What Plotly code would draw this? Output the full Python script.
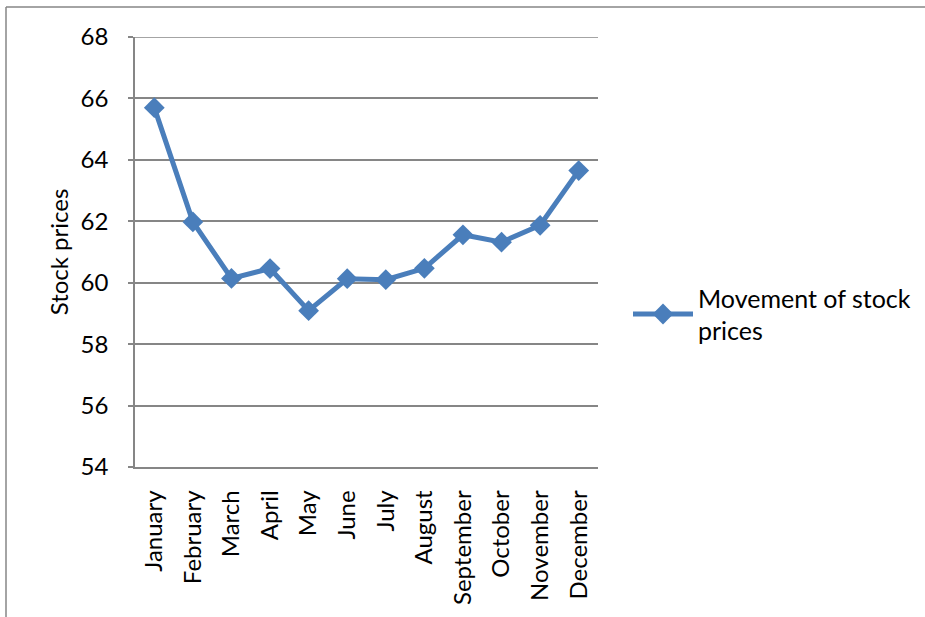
import plotly.graph_objects as go

months = ["January", "February", "March", "April", "May", "June", "July",
          "August", "September", "October", "November", "December"]
prices = [65.70, 61.98, 60.14, 60.46, 59.09, 60.13, 60.10, 60.47, 61.56, 61.32, 61.87, 63.65]
y_ticks = [54, 56, 58, 60, 62, 64, 66, 68]
series_name = "Movement of stock<br>prices"

BLUE = "#4A7EBB"
GRID = "#868686"
FONT = "Lato, Open Sans, sans-serif"

fig = go.Figure()
fig.add_trace(go.Scatter(
    x=months, y=prices, name=series_name, mode="lines+markers",
    line=dict(color=BLUE, width=5),
    marker=dict(symbol="diamond", size=16, color=BLUE),
))

W, H = 925, 617
L, R, T, B = 135, 327, 37, 150
pw, ph = W - L - R, H - T - B


def px_x(v):
    return (v - L) / pw


def px_y(v):
    return (H - B - v) / ph


fig.update_layout(
    width=W, height=H,
    margin=dict(l=L, r=R, t=T, b=B, autoexpand=False),
    paper_bgcolor="white", plot_bgcolor="white",
    font=dict(family=FONT, size=24, color="#000000"),
    showlegend=True,
    legend=dict(x=px_x(628), y=px_y(314), xanchor="left", yanchor="middle",
                font=dict(size=25), itemwidth=60, bgcolor="rgba(0,0,0,0)"),
    xaxis=dict(
        type="category", range=[-0.5, 11.5], tickangle=-90,
        showgrid=False, showline=True, linecolor=GRID, linewidth=1.5,
        ticks="", ticklabelstandoff=12, tickfont=dict(size=24),
    ),
    yaxis=dict(
        range=[54, 68], tickvals=y_ticks, showgrid=True, gridcolor=GRID,
        gridwidth=1.5, showline=True, linecolor=GRID, linewidth=1.5,
        ticks="outside", ticklen=5, tickcolor=GRID, tickwidth=1.5,
        ticklabelstandoff=15,
        zeroline=False, tickfont=dict(size=24),
        title=dict(text="Stock prices", font=dict(size=24), standoff=5),
    ),
    shapes=[
        # top gridline at the upper edge of the value range
        dict(type="line", xref="paper", yref="y", x0=0, x1=1, y0=68, y1=68,
             line=dict(color=GRID, width=1.5)),
        dict(type="line", xref="paper", yref="paper",
             x0=px_x(6), x1=px_x(6), y0=px_y(7), y1=px_y(640),
             line=dict(color=GRID, width=1.5)),
        dict(type="line", xref="paper", yref="paper",
             x0=px_x(6), x1=px_x(940), y0=px_y(7), y1=px_y(7),
             line=dict(color=GRID, width=1.5)),
    ],
)

fig.write_html("out.html")
